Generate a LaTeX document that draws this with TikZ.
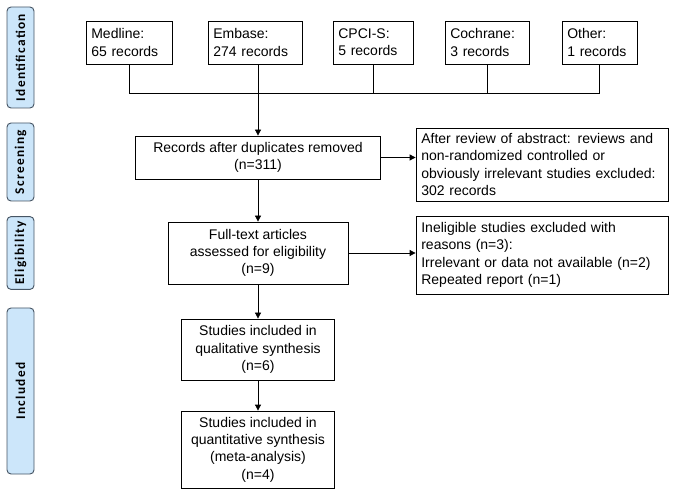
\documentclass[tikz,border=0pt]{standalone}
\usepackage{fontspec}
\setmainfont{Liberation Sans}
\newfontfamily\stagefont[LetterSpace=10]{Carlito}
\usetikzlibrary{arrows.meta}

\definecolor{stagefill}{RGB}{204,230,250}
\definecolor{stageline}{RGB}{70,85,100}

\tikzset{
    recbox/.style={draw, line width=0.6pt, inner xsep=4pt, inner ysep=2pt,
        font=\fontsize{10.5}{13}\selectfont},
    srcbox/.style={recbox, align=left, minimum height=32.25pt},
    mainbox/.style={recbox, align=center},
    exclbox/.style={recbox, align=left, text width=181pt},
    stagebox/.style={draw=stageline, fill=stagefill, line width=0.7pt,
        rounded corners=3pt, rotate=90, minimum height=20.25pt,
        font=\stagefont\bfseries\fontsize{10}{11}\selectfont},
    flow/.style={-{Triangle[length=4.5pt,width=4.5pt]}, line width=0.6pt},
}

\begin{document}
\begin{tikzpicture}[x=0.75pt, y=-0.75pt]
    \useasboundingbox (0,0) rectangle (675,495);

    % stages
    \foreach \name/\yc/\len in {Identification/57.5/75.75, Screening/162/58.5,
        Eligibility/253/51, Included/391/124.5} {
        \node[stagebox, minimum width=\len pt] (\name) at (20.5,\yc) {\name};
    }

    % sources
    \node[srcbox, text width=56.5pt] (medline) at (129,42.5) {Medline:\\65 records};
    \node[srcbox, text width=62.5pt] (embase) at (255,42.5) {Embase:\\274 records};
    \node[srcbox, text width=52pt] (cpci) at (373,42.5) {CPCI-S:\\5 records};
    \node[srcbox, text width=55pt] (cochrane) at (487,42.5) {Cochrane:\\3 records};
    \node[srcbox, text width=48.25pt] (other) at (599.5,42.5) {Other:\\1 records};
    \coordinate (bus) at (0,93);

    % main flow
    \node[mainbox, minimum width=183.75pt, minimum height=32.25pt] (records) at (258,157.5)
        {Records after duplicates removed\\(n=311)};
    \node[mainbox, minimum width=135pt, minimum height=46.5pt] (fulltext) at (258,253)
        {Full-text articles\\assessed for eligibility\\(n=9)};
    \node[mainbox, minimum width=114.75pt, minimum height=45.75pt] (qual) at (258,349.5)
        {Studies included in\\qualitative synthesis\\(n=6)};
    \node[mainbox, minimum width=114.75pt, minimum height=57.75pt] (quant) at (258,449.5)
        {Studies included in\\quantitative synthesis\\(meta-analysis)\\(n=4)};

    % exclusions
    \node[exclbox, minimum height=54.75pt] (abstract) at (542,164.5)
        {After review of abstract: reviews and\\non-randomized controlled or\\
        obviously irrelevant studies excluded:\\302 records};
    \node[exclbox, minimum height=58.5pt] (inelig) at (542,255)
        {Ineligible studies excluded with\\reasons (n=3):\\Irrelevant or data not available (n=2)\\Repeated report (n=1)};

    % connectors
    \draw[line width=0.6pt] (medline.south) -- (medline.south |- bus) -- (other.south |- bus) -- (other.south);
    \foreach \src in {cpci, cochrane} {
        \draw[line width=0.6pt] (\src.south) -- (\src.south |- bus);
    }
    \draw[flow] (records.north |- embase.south) -- (records.north);
    \draw[flow] (records) -- (fulltext);
    \draw[flow] (fulltext) -- (qual);
    \draw[flow] (qual) -- (quant);
    \draw[flow] (records.east) -- (records.east -| abstract.west);
    \draw[flow] (fulltext.east) -- (fulltext.east -| inelig.west);
\end{tikzpicture}
\end{document}
